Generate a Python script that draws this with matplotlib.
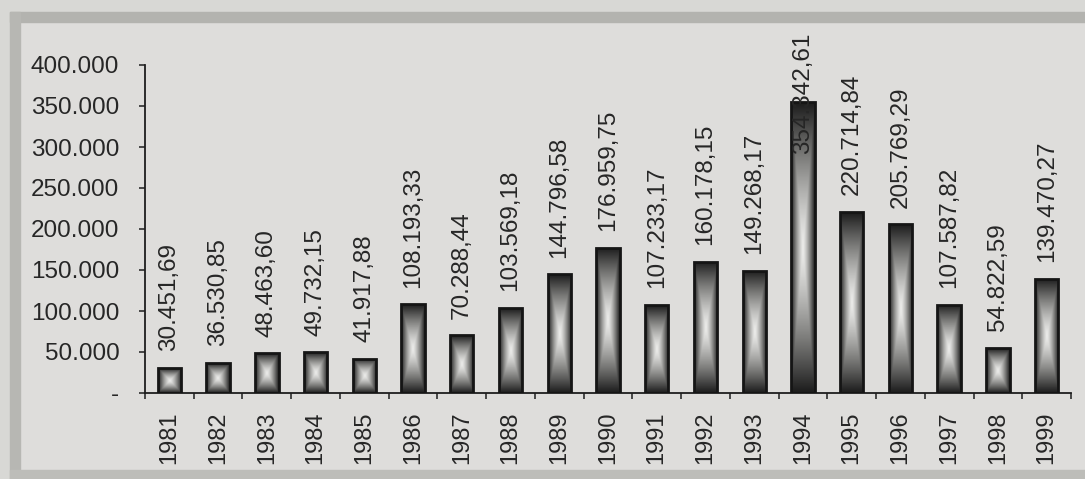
import numpy as np
import matplotlib
matplotlib.use("Agg")
import matplotlib.pyplot as plt
from matplotlib.patches import Rectangle
from matplotlib.ticker import FixedLocator, FuncFormatter

plt.rcParams['font.family'] = ['Liberation Sans', 'DejaVu Sans']

# yearly totals
years = [str(y) for y in range(1981, 2000)]
values = [30451.69, 36530.85, 48463.60, 49732.15, 41917.88, 108193.33,
          70288.44, 103569.18, 144796.58, 176959.75, 107233.17, 160178.15,
          149268.17, 354342.61, 220714.84, 205769.29, 107587.82, 54822.59,
          139470.27]
y_ticks = [0, 50000, 100000, 150000, 200000, 250000, 300000, 350000, 400000]

ink = '#262626'
panel = '#dedddb'


def de_fmt(v, dec):
    s = f"{v:,.{dec}f}"
    return s.replace(',', 'X').replace('.', ',').replace('X', '.')


fig = plt.figure(figsize=(10.85, 4.79), dpi=100)
fig.patch.set_facecolor(panel)

# frame bands around the chart panel
W, H = 1085, 479
def band(x, y, w, h, c):
    fig.patches.append(Rectangle((x / W, 1 - (y + h) / H), w / W, h / H,
                                 transform=fig.transFigure, color=c,
                                 zorder=0))
band(0, 0, W, 12, '#d8d8d5')
band(0, 0, 10, H, '#d8d8d5')
band(10, 12, W, 10, '#b3b3af')
band(10, 12, 10, H, '#b7b7b3')
band(10, 470, W, 9, '#bdbdb9')

ax = fig.add_axes([145 / W, 1 - 393 / H, (1071 - 145) / W, (393 - 65) / H])
ax.set_facecolor('none')

x = np.arange(len(years))
bw = 0.48

# darkness grows towards the bar border (centre-out shading)
u = np.linspace(-1, 1, 60)
v = np.linspace(-1, 1, 200)
U, V = np.meshgrid(u, v)
shade = np.maximum(np.abs(U), np.abs(V)) ** 1.3
cmap = matplotlib.colors.LinearSegmentedColormap.from_list(
    'bar', ['#ececea', '#858583', '#1c1c1c'])

bars = ax.bar(x, values, width=bw, color='none', edgecolor='#151515',
              linewidth=2.0, zorder=3)
for b in bars:
    x0, w, h = b.get_x(), b.get_width(), b.get_height()
    im = ax.imshow(shade, cmap=cmap, vmin=0, vmax=1, origin='lower',
                   extent=(x0, x0 + w, 0, h), aspect='auto', zorder=2,
                   interpolation='bilinear')
    im.set_clip_path(b)

ax.set_xlim(-0.5, len(years) - 0.5)
ax.set_ylim(0, 400000)

for s in ['top', 'right']:
    ax.spines[s].set_visible(False)
for s in ['left', 'bottom']:
    ax.spines[s].set_color('#1e1e1e')
    ax.spines[s].set_linewidth(1.3)

ax.yaxis.set_major_locator(FixedLocator(y_ticks))
ax.yaxis.set_major_formatter(FuncFormatter(
    lambda v, p: '-' if v == 0 else de_fmt(v, 0)))
ax.tick_params(axis='y', direction='out', length=4.5, width=1.1,
               color='#1e1e1e', pad=14, labelsize=17.5, labelcolor=ink)

ax.set_xticks(x)
ax.set_xticklabels(years, rotation=90, fontsize=17, color=ink)
ax.set_xticks(np.arange(len(years) + 1) - 0.5, minor=True)
ax.tick_params(axis='x', which='major', length=0, pad=13)
ax.tick_params(axis='x', which='minor', direction='out', length=4.5,
               width=1.1, color='#1e1e1e')

# value labels above each bar, kept inside the panel
fig.canvas.draw()
renderer = fig.canvas.get_renderer()
top_px = H - 33
for xi, val in zip(x, values):
    t = ax.annotate(de_fmt(val, 2), (xi, val), xytext=(0, 12),
                    textcoords='offset points', rotation=90,
                    ha='center', va='bottom', fontsize=17.5, color=ink,
                    zorder=4, annotation_clip=False)
    bb = t.get_window_extent(renderer)
    if bb.y1 > top_px:
        t.set_position((0, 12 - (bb.y1 - top_px) * 72 / fig.dpi))

fig.savefig('out.png', dpi=100, facecolor=fig.get_facecolor())
